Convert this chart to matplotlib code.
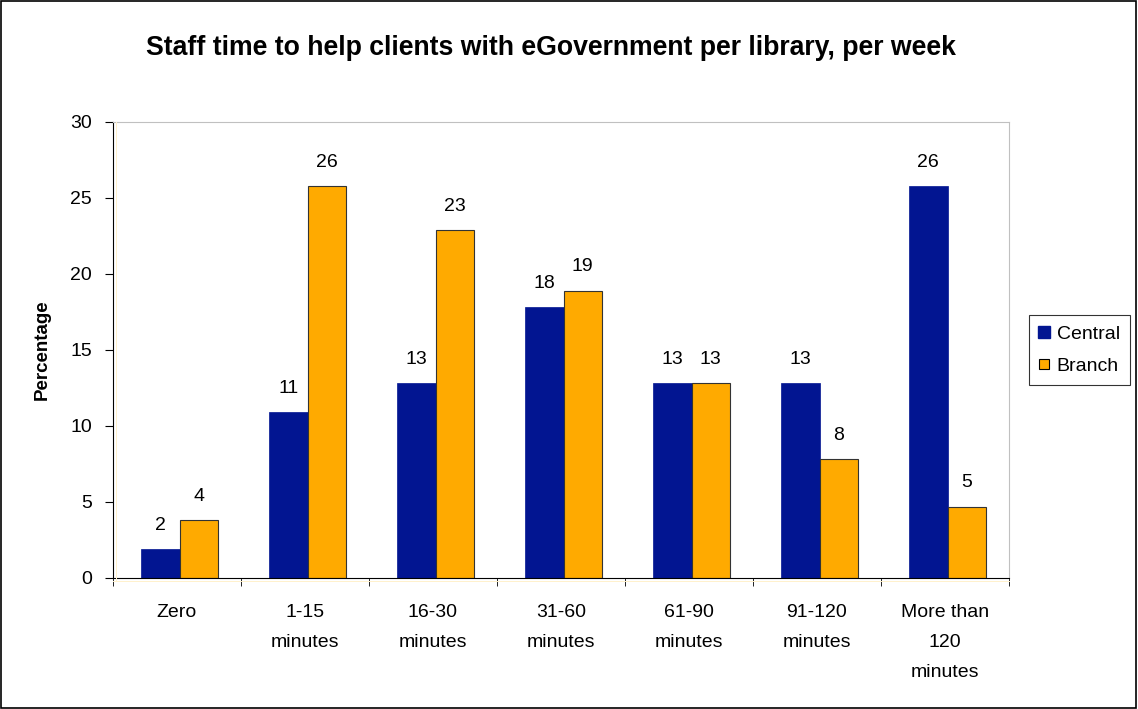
import numpy as np
import matplotlib
matplotlib.use("Agg")
import matplotlib.pyplot as plt
from matplotlib.patches import Rectangle
from matplotlib.lines import Line2D

# data
categories = ["Zero", "1-15\nminutes", "16-30\nminutes", "31-60\nminutes",
              "61-90\nminutes", "91-120\nminutes", "More than\n120\nminutes"]
central = [1.9, 10.9, 12.8, 17.8, 12.8, 12.8, 25.8]
branch = [3.8, 25.8, 22.9, 18.9, 12.8, 7.8, 4.7]
yticks = [0, 5, 10, 15, 20, 25, 30]

NAVY = "#021591"
ORANGE = "#FFAA00"

plt.rcParams["font.family"] = ["Liberation Sans", "DejaVu Sans"]

fig = plt.figure(figsize=(11.38, 7.09), dpi=100)
ax = fig.add_axes([0.0993, 0.1848, 0.7873, 0.6432])

# outer border of the whole chart
fig.patches.append(Rectangle((0.0005, 0.001), 0.998, 0.997, transform=fig.transFigure,
                             fill=False, edgecolor="black", linewidth=1.2))
# faint yellow shadow lines next to the axes
fig.lines.append(Line2D([0.1019, 0.1019], [0.181, 0.828], transform=fig.transFigure,
                        color="#FFF1CC", linewidth=0.7))
fig.lines.append(Line2D([0.0993, 0.8866], [0.1805, 0.1805], transform=fig.transFigure,
                        color="#FFF1CC", linewidth=0.7))

x = np.arange(len(categories))
w = 0.3
b1 = ax.bar(x - w / 2 + 0.02, central, w, color=NAVY, edgecolor=NAVY,
            linewidth=0.5, label="Central")
b2 = ax.bar(x + w / 2 + 0.02, branch, w, color=ORANGE, edgecolor="#333333",
            linewidth=0.8, label="Branch")

for bars in (b1, b2):
    for r in bars:
        ax.annotate("{:.0f}".format(r.get_height()),
                    (r.get_x() + r.get_width() / 2, r.get_height()),
                    xytext=(0, 11), textcoords="offset points",
                    ha="center", va="bottom", fontsize=14)

ax.set_xlim(-0.5, len(categories) - 0.5)
ax.set_ylim(0, 30)
ax.set_yticks(yticks)
ax.tick_params(axis="y", labelsize=14, length=6, direction="out", pad=9)

ax.set_xticks(x)
ax.set_xticklabels(categories, fontsize=14, linespacing=1.97)
ax.tick_params(axis="x", which="major", length=0, pad=19)
ax.set_xticks(np.arange(len(categories) + 1) - 0.5, minor=True)
ax.tick_params(axis="x", which="minor", length=6, direction="out")

for s in ("top", "right"):
    ax.spines[s].set_color("#C0C0C0")
for s in ("left", "bottom"):
    ax.spines[s].set_color("black")

ax.set_ylabel("Percentage", fontsize=13.5, fontweight="bold", labelpad=14)
fig.text(0.484, 0.933, "Staff time to help clients with eGovernment per library, per week",
         ha="center", va="center", fontsize=19.2, fontweight="bold")

handles = [
    Line2D([], [], linestyle="none", marker="s", markersize=9,
           markerfacecolor=NAVY, markeredgecolor=NAVY),
    Line2D([], [], linestyle="none", marker="s", markersize=6.5,
           markerfacecolor=ORANGE, markeredgecolor="black", markeredgewidth=0.8),
]
leg = ax.legend(handles, ["Central", "Branch"], loc="center left",
                bbox_to_anchor=(1.022, 0.5), fontsize=14,
                frameon=True, fancybox=False, edgecolor="black", handlelength=0.6,
                handletextpad=0.35, borderpad=0.5, labelspacing=0.75,
                borderaxespad=0)
leg.get_frame().set_linewidth(0.8)

fig.savefig("out.png", dpi=100)
